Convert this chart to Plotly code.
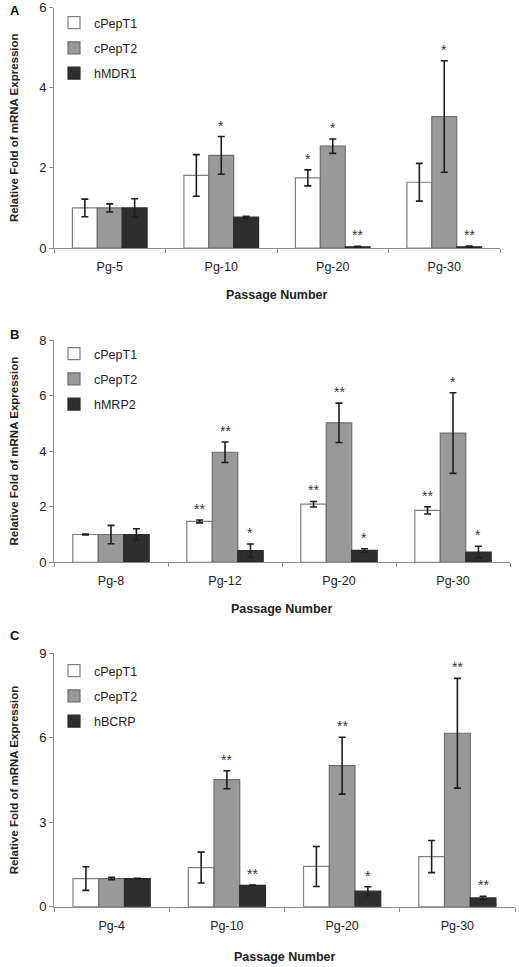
import plotly.graph_objects as go

# ---------------- data ----------------
series_names_A = ["cPepT1", "cPepT2", "hMDR1"]
cats_A = ["Pg-5", "Pg-10", "Pg-20", "Pg-30"]
cpept1_A = [1.0, 1.81, 1.75, 1.64]
cpept1_A_err = [0.22, 0.52, 0.20, 0.47]
cpept2_A = [1.0, 2.31, 2.54, 3.28]
cpept2_A_err = [0.10, 0.47, 0.18, 1.39]
hmdr1_A = [1.0, 0.77, 0.03, 0.03]
hmdr1_A_err = [0.23, 0.02, 0.01, 0.02]
stars_A = [["", "", ""], ["", "*", ""], ["*", "*", "**"], ["", "*", "**"]]

series_names_B = ["cPepT1", "cPepT2", "hMRP2"]
cats_B = ["Pg-8", "Pg-12", "Pg-20", "Pg-30"]
cpept1_B = [1.0, 1.47, 2.09, 1.87]
cpept1_B_err = [0.02, 0.05, 0.10, 0.13]
cpept2_B = [1.0, 3.96, 5.02, 4.65]
cpept2_B_err = [0.33, 0.37, 0.71, 1.45]
hmrp2_B = [1.0, 0.42, 0.43, 0.37]
hmrp2_B_err = [0.21, 0.24, 0.06, 0.21]
stars_B = [["", "", ""], ["**", "**", "*"], ["**", "**", "*"], ["**", "*", "*"]]

series_names_C = ["cPepT1", "cPepT2", "hBCRP"]
cats_C = ["Pg-4", "Pg-10", "Pg-20", "Pg-30"]
cpept1_C = [1.0, 1.39, 1.43, 1.78]
cpept1_C_err = [0.42, 0.55, 0.71, 0.57]
cpept2_C = [1.0, 4.51, 5.01, 6.16]
cpept2_C_err = [0.04, 0.32, 1.01, 1.95]
hbcrp_C = [1.0, 0.76, 0.55, 0.31]
hbcrp_C_err = [0.01, 0.01, 0.16, 0.06]
stars_C = [["", "", ""], ["", "**", "**"], ["", "**", "*"], ["", "**", "**"]]

yticks_A = [0, 2, 4, 6]
yticks_B = [0, 2, 4, 6, 8]
yticks_C = [0, 3, 6, 9]

# ---------------- styling ----------------
W, H = 519, 967
FONT = "Liberation Sans, Arial, sans-serif"
fills = ["#ffffff", "#999999", "#2e2e2e"]
lines = ["#7f7f7f", "#6e6e6e", "#2a2a2a"]
AXIS_COL = "#8c8c8c"
BARGAP = 0.33


def clamp(v):
    return min(1.0, max(0.0, v))


def px_x(sx):
    return clamp(sx / W)


def px_y(sy):
    return clamp(1 - sy / H)


panels = [
    dict(letter="A", cats=cats_A, names=series_names_A,
         vals=[cpept1_A, cpept2_A, hmdr1_A], errs=[cpept1_A_err, cpept2_A_err, hmdr1_A_err],
         stars=stars_A, yticks=yticks_A,
         px=(54, 500), py=(7.5, 248), letter_y=10, title_y=295, legend_y=8),
    dict(letter="B", cats=cats_B, names=series_names_B,
         vals=[cpept1_B, cpept2_B, hmrp2_B], errs=[cpept1_B_err, cpept2_B_err, hmrp2_B_err],
         stars=stars_B, yticks=yticks_B,
         px=(54, 510), py=(340, 562.3), letter_y=334, title_y=609, legend_y=339),
    dict(letter="C", cats=cats_C, names=series_names_C,
         vals=[cpept1_C, cpept2_C, hbcrp_C], errs=[cpept1_C_err, cpept2_C_err, hbcrp_C_err],
         stars=stars_C, yticks=yticks_C,
         px=(54, 515), py=(653.3, 906.7), letter_y=635, title_y=957, legend_y=656),
]

fig = go.Figure()
annotations = []
layout = {}

for p_i, p in enumerate(panels):
    k = p_i + 1
    xa = "x" if k == 1 else f"x{k}"
    ya = "y" if k == 1 else f"y{k}"
    lg = "legend" if k == 1 else f"legend{k}"
    for s in range(3):
        fig.add_trace(go.Bar(
            x=p["cats"], y=p["vals"][s], name=p["names"][s],
            xaxis=xa, yaxis=ya, legend=lg, legendgroup=f"{p['letter']}{s}",
            marker=dict(color=fills[s], line=dict(color=lines[s], width=1.2)),
            error_y=dict(type="data", array=p["errs"][s], visible=True,
                         color="#1e1e1e", thickness=1.6, width=3.5),
            hoverinfo="skip",
        ))
    x0, x1 = p["px"]
    y0, y1 = p["py"]
    dom_x = [px_x(x0), px_x(x1)]
    dom_y = [px_y(y1), px_y(y0)]
    key_x = "xaxis" if k == 1 else f"xaxis{k}"
    key_y = "yaxis" if k == 1 else f"yaxis{k}"
    layout[key_x] = dict(
        domain=dom_x, anchor=ya, type="category", range=[-0.5, 3.5],
        automargin=False,
        showline=True, linecolor=AXIS_COL, linewidth=1,
        ticks="outside", tickson="boundaries", ticklen=4, tickcolor=AXIS_COL,
        showgrid=False, tickfont=dict(family=FONT, size=12.5, color="#222"),
        ticklabelstandoff=7,
    )
    layout[key_y] = dict(
        domain=dom_y, anchor=xa, range=[0, max(p["yticks"])],
        automargin=False,
        tickvals=p["yticks"], ticktext=[str(v) for v in p["yticks"]],
        showline=True, linecolor=AXIS_COL, linewidth=1,
        ticks="outside", ticklen=4, tickcolor=AXIS_COL,
        showgrid=False, zeroline=False,
        tickfont=dict(family=FONT, size=13, color="#222"),
        title=dict(text="<b>Relative Fold of mRNA Expression</b>",
                   font=dict(family=FONT, size=11.5, color="#222"), standoff=18),
    )
    layout[lg] = dict(
        x=px_x(54), y=px_y(p["legend_y"]), xanchor="left", yanchor="top",
        xref="paper", yref="paper", bgcolor="rgba(0,0,0,0)",
        font=dict(family=FONT, size=12.5, color="#222"),
        tracegroupgap=6, itemwidth=30, traceorder="grouped",
    )
    # significance stars, positioned from data (value + error)
    grp_w = 1 - BARGAP
    for ci in range(4):
        for s in range(3):
            t = p["stars"][ci][s]
            if not t:
                continue
            annotations.append(dict(
                x=ci + (s - 1) * grp_w / 3, y=p["vals"][s][ci] + p["errs"][s][ci],
                xref=xa, yref=ya, text=t, showarrow=False, yanchor="bottom",
                yshift=1, font=dict(family=FONT, size=14, color="#333"),
            ))
    # panel letter
    annotations.append(dict(x=px_x(8), y=px_y(p["letter_y"]), xref="paper", yref="paper",
                            text=f"<b>{p['letter']}</b>", showarrow=False,
                            xanchor="left", yanchor="middle",
                            font=dict(family=FONT, size=13, color="#111")))
    # x-axis title
    annotations.append(dict(x=px_x((x0 + x1) / 2), y=px_y(p["title_y"]), xref="paper", yref="paper",
                            text="<b>Passage Number</b>", showarrow=False,
                            xanchor="center", yanchor="middle",
                            font=dict(family=FONT, size=12.5, color="#222")))

fig.update_layout(
    width=W, height=H, margin=dict(l=0, r=0, t=0, b=0, autoexpand=False),
    paper_bgcolor="white", plot_bgcolor="white",
    barmode="group", bargap=BARGAP, bargroupgap=0,
    annotations=annotations, showlegend=True,
    **layout,
)

fig.write_html("out.html", config={"displayModeBar": False},
               post_script="document.body.style.margin='0px';document.body.style.overflow='hidden';")
